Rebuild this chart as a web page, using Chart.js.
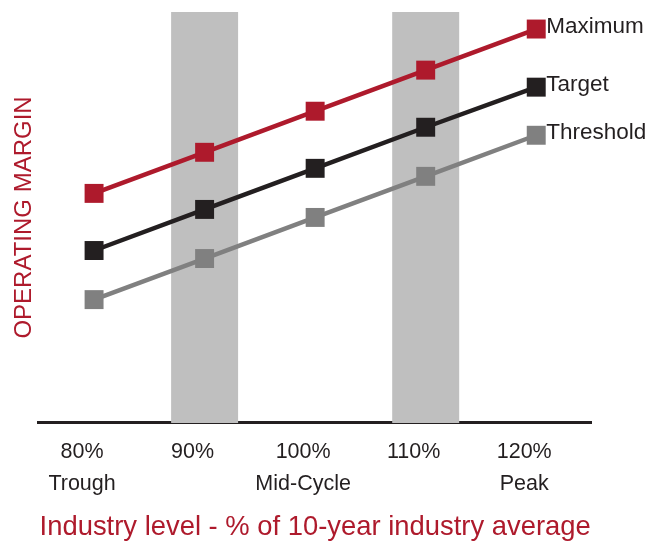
<!DOCTYPE html>
<html>
<head>
<meta charset="utf-8">
<script src="https://cdn.jsdelivr.net/npm/chart.js@4.4.1/dist/chart.umd.min.js"></script>
<style>
  html, body { margin: 0; padding: 0; background: #fff; }
  #wrap { width: 646px; height: 542px; }
</style>
</head>
<body>
<div id="wrap"><canvas id="marginChart" width="646" height="542"></canvas></div>
<script>
// categories and tick labels
var levels = ['80%', '90%', '100%', '110%', '120%'];
var phases = ['Trough', '', 'Mid-Cycle', '', 'Peak'];

// series values (operating margin, arbitrary units)
var maximum = [22.9, 27.0, 31.1, 35.2, 39.3];
var target = [17.2, 21.3, 25.4, 29.5, 33.5];
var threshold = [12.3, 16.4, 20.5, 24.6, 28.7];

// shaded bands behind the 90% and 110% columns (full height of the axis)
var yMax = 41;
var bands = [null, yMax, null, yMax, null];

var RED = '#ae1a2c';
var BLACK = '#231f20';
var GREY = '#808080';

// draws the series name to the right of each line's last point
var endLabels = {
  id: 'endLabels',
  afterDatasetsDraw: function (chart) {
    var ctx = chart.ctx;
    ctx.save();
    ctx.font = '22.5px "Liberation Sans", Arial, sans-serif';
    ctx.fillStyle = BLACK;
    ctx.textBaseline = 'middle';
    ctx.textAlign = 'left';
    chart.data.datasets.forEach(function (ds, i) {
      if (ds.type !== 'line') return;
      var meta = chart.getDatasetMeta(i);
      var pt = meta.data[meta.data.length - 1];
      ctx.fillText(ds.label, pt.x + 10, pt.y - 2);
    });
    ctx.restore();
  }
};

function lineSet(label, values, color) {
  return {
    type: 'line',
    label: label,
    data: values,
    borderColor: color,
    backgroundColor: color,
    borderWidth: 4.5,
    pointStyle: 'rect',
    pointRadius: 13.4,
    pointBorderWidth: 0,
    pointBackgroundColor: color,
    tension: 0,
    fill: false,
    clip: false,
    order: 1
  };
}

var ctx = document.getElementById('marginChart').getContext('2d');
var marginChart = new Chart(ctx, {
  data: {
    labels: levels.map(function (l, i) { return [l, phases[i]]; }),
    datasets: [
      lineSet('Maximum', maximum, RED),
      lineSet('Target', target, BLACK),
      lineSet('Threshold', threshold, GREY),
      {
        type: 'bar',
        label: 'bands',
        data: bands,
        backgroundColor: '#bfbfbf',
        barPercentage: 0.606,
        categoryPercentage: 1,
        order: 10
      }
    ]
  },
  options: {
    responsive: false,
    animation: false,
    layout: { autoPadding: false, padding: { left: 2, right: 54.5, top: 12, bottom: 0 } },
    plugins: {
      legend: { display: false },
      tooltip: { enabled: false }
    },
    scales: {
      x: {
        grid: { display: false, drawTicks: false },
        border: { display: true, color: BLACK, width: 3 },
        ticks: {
          color: BLACK,
          font: { family: '"Liberation Sans", Arial, sans-serif', size: 21.5, lineHeight: 1.45 },
          padding: 14,
          labelOffset: -12,
          maxRotation: 0,
          autoSkip: false
        },
        title: {
          display: true,
          text: 'Industry level - % of 10-year industry average',
          color: RED,
          font: { family: '"Liberation Sans", Arial, sans-serif', size: 27.4, lineHeight: 1.05 },
          padding: { top: 0, bottom: 0 }
        }
      },
      y: {
        min: 0,
        max: yMax,
        grid: { display: false, drawTicks: false },
        border: { display: false },
        ticks: { display: false },
        title: {
          display: true,
          text: 'OPERATING MARGIN',
          color: RED,
          font: { family: '"Liberation Sans", Arial, sans-serif', size: 24, lineHeight: 1.2 },
          padding: { top: 8, bottom: 0 }
        }
      }
    }
  },
  plugins: [endLabels]
});
</script>
</body>
</html>
